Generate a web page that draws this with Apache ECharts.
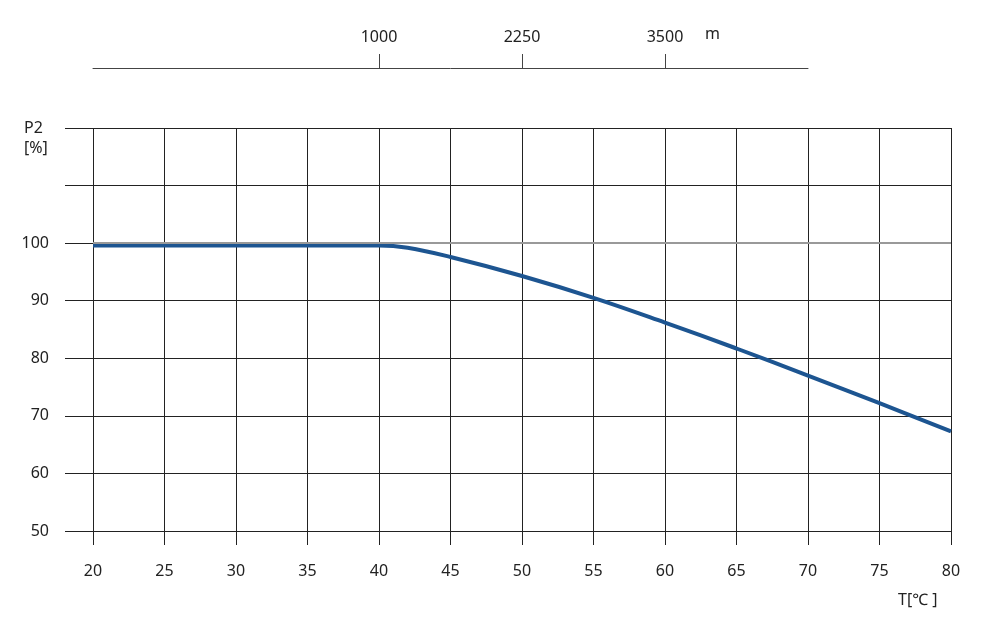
<!DOCTYPE html>
<html><head><meta charset="utf-8">
<script src="https://cdn.jsdelivr.net/npm/echarts@6/dist/echarts.min.js"></script>
<style>html,body{margin:0;padding:0;background:#fff}#c{width:985px;height:640px}</style>
</head><body><div id="c"></div>
<script>
const temps = [20, 25, 30, 35, 40, 42, 45, 50, 55, 60, 65, 70, 75, 80];
const power = [99.6, 99.6, 99.6, 99.6, 99.6, 99.2, 97.6, 94.3, 90.5, 86.2, 81.7, 77.0, 72.2, 67.3];
const altitudePos = [40, 50, 60];
const altitudeLabels = ['1000', '2250', '3500'];
const yLabels = [50, 60, 70, 80, 90, 100];
const font = 'Noto Sans';
const chart = echarts.init(document.getElementById('c'));
chart.setOption({
  animation: false,
  textStyle: {fontFamily: font},
  grid: [
    {left: 93, right: 34, top: 128, bottom: 109},
    {left: 93, width: 715, top: 67, height: 1}
  ],
  xAxis: [
    {gridIndex: 0, type: 'value', min: 20, max: 80, interval: 5,
     axisLine: {lineStyle: {color: '#222', width: 1}},
     axisTick: {length: 14, lineStyle: {color: '#222'}},
     axisLabel: {color: '#222', fontSize: 16, margin: 32, fontFamily: font},
     splitLine: {show: true, lineStyle: {color: '#222', width: 1}}},
    {gridIndex: 1, type: 'value', position: 'top', min: 20, max: 70,
     axisLine: {lineStyle: {color: '#444', width: 1}},
     axisTick: {length: 14, lineStyle: {color: '#444'}, customValues: altitudePos},
     axisLabel: {color: '#222', fontSize: 16, margin: 22, fontFamily: font,
       customValues: altitudePos,
       formatter: v => altitudeLabels[altitudePos.indexOf(v)] || ''},
     splitLine: {show: false}}
  ],
  yAxis: [
    {gridIndex: 0, type: 'value', min: 50, max: 120, interval: 10,
     axisLine: {show: false},
     axisTick: {show: true, length: 28, lineStyle: {color: '#222'}},
     axisLabel: {color: '#222', fontSize: 16, margin: 44, align: 'right',
       formatter: v => yLabels.includes(v) ? String(v) : ''},
     splitLine: {show: true, lineStyle: {color: '#222', width: 1}}},
    {gridIndex: 1, type: 'value', show: false, min: 0, max: 1}
  ],
  series: [
    {type: 'line', xAxisIndex: 0, yAxisIndex: 0, data: temps.map((t, i) => [t, power[i]]),
     smooth: 0.4, showSymbol: false, lineStyle: {color: '#1d5591', width: 4},
     markLine: {silent: true, symbol: 'none', label: {show: false},
       lineStyle: {color: '#999', width: 2, type: 'solid'}, data: [{yAxis: 100}]}, z: 3}
  ],
  graphic: [
    {type: 'text', left: 24, top: 118, style: {text: 'P2\n[%]', font: '16px "Noto Sans"', fill: '#222', lineHeight: 20}},
    {type: 'text', left: 705, top: 26, style: {text: 'm', font: '16px "Noto Sans"', fill: '#222'}},
    {type: 'text', left: 898, top: 592, style: {text: 'T[℃ ]', font: '16px "Noto Sans"', fill: '#222'}}
  ]
});
</script></body></html>
